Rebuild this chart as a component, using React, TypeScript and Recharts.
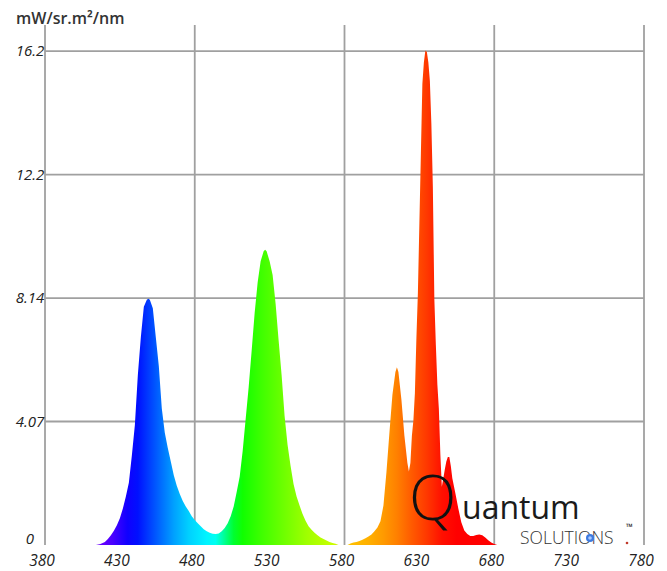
import { Area, AreaChart, CartesianGrid, XAxis, YAxis } from 'recharts';

const wavelengths = [
  380, 414, 417, 420, 422, 424, 426, 428, 430, 432, 434, 436, 438, 440, 442, 444, 446, 448, 449, 450,
  452, 454, 456, 458, 460, 462, 464, 466, 468, 470, 472, 474, 476, 478, 480, 482, 484, 486, 488, 490,
  492, 494, 496, 498, 500, 502, 504, 506, 508, 510, 512, 514, 516, 518, 520, 522, 524, 526, 527, 528,
  530, 532, 534, 536, 538, 540, 542, 544, 546, 548, 550, 552, 554, 556, 558, 560, 562, 564, 566, 568,
  570, 572, 574, 576, 582, 584, 586, 588, 590, 592, 594, 596, 598, 600, 602, 604, 606, 608, 610, 612,
  614, 615, 616, 618, 620, 622, 623, 624, 625, 626, 627, 628, 629, 630, 631, 632, 633, 634, 635, 636,
  637, 638, 639, 640, 641, 642, 643, 644, 645, 646, 647, 648, 649, 650, 651, 652, 654, 656, 658, 660,
  662, 664, 666, 668, 670, 672, 674, 676, 678, 680, 682, 780,
];

const radiance = [
  0, 0, 0.03, 0.1, 0.2, 0.32, 0.47, 0.65, 0.88, 1.2, 1.6, 2.05, 2.95, 3.95, 5.6, 6.85, 7.85, 8.08, 8.12, 8.08,
  7.8, 6.85, 5.9, 4.5, 3.7, 3.2, 2.75, 2.3, 1.95, 1.68, 1.45, 1.27, 1.12, 0.95, 0.82, 0.72, 0.62, 0.52, 0.45, 0.4,
  0.37, 0.36, 0.38, 0.45, 0.56, 0.72, 0.95, 1.27, 1.75, 2.25, 3.1, 4.15, 5.2, 6.4, 7.65, 8.65, 9.35, 9.68, 9.73, 9.68,
  9.35, 8.9, 7.95, 6.75, 5.6, 4.25, 3.3, 2.6, 2.0, 1.6, 1.3, 1.02, 0.8, 0.62, 0.5, 0.4, 0.32, 0.25, 0.2, 0.15,
  0.1, 0.07, 0.04, 0, 0, 0.05, 0.08, 0.1, 0.13, 0.17, 0.22, 0.28, 0.35, 0.45, 0.58, 0.78, 1.3, 2.4, 3.7, 4.95,
  5.7, 5.86, 5.7, 4.8, 3.6, 2.7, 2.42, 2.7, 3.6, 4.1, 5.0, 6.8, 8.3, 10.6, 12.9, 15.2, 15.9, 16.3, 16.25, 15.9,
  15.3, 13.9, 11.8, 8.1, 6.6, 5.3, 4.5, 3.0, 1.92, 2.2, 2.5, 2.75, 2.9, 2.9, 2.6, 2.2, 1.71, 1.2, 0.75, 0.48,
  0.36, 0.3, 0.3, 0.33, 0.35, 0.32, 0.25, 0.16, 0.08, 0.03, 0, 0,
];

const xDomain = [380, 780];
const yDomain = [0, 17.14];
const xTicks = [380, 430, 480, 530, 580, 630, 680, 730, 780];
const xGridTicks = [380, 480, 580, 680, 780];
const yTicks = [0, 4.07, 8.14, 12.21, 16.28];
const yTickLabels = ['0', '4.07', '8.14', '12.2', '16.2'];
const yGridTicks = [4.07, 8.14, 12.21, 16.28];

// wavelength -> colour stops for the spectrum fill
const spectrumStops: [number, string][] = [
  [380, '#7000ff'], [417, '#6a00ff'], [425, '#4a00ff'], [435, '#1000ff'], [442, '#0010ff'],
  [450, '#0040ff'], [458, '#0070ff'], [466, '#00a0ff'], [476, '#00d0ff'], [488, '#00f4ff'],
  [494, '#00fff0'], [500, '#00ff90'], [506, '#00ff30'], [512, '#10ff00'], [525, '#40ff00'],
  [540, '#70ff00'], [555, '#a0ff00'], [572, '#c8ff00'], [584, '#ffc000'], [596, '#ffb000'],
  [606, '#ff9a00'], [615, '#ff8000'], [625, '#ff5a00'], [635, '#ff3800'], [645, '#ff1000'],
  [655, '#ff0000'], [780, '#ff0000'],
];

const data = wavelengths.map((wl, i) => ({ wl, v: radiance[i] }));

const font = '"Open Sans", "DejaVu Sans", sans-serif';

// use the axis scale when it is exposed, else the plot offset
const scaleX = (axis: any, offset: any, t: number) =>
  axis && typeof axis.scale === 'function'
    ? axis.scale(t)
    : offset.left + ((t - xDomain[0]) / (xDomain[1] - xDomain[0])) * offset.width;

const scaleY = (axis: any, offset: any, t: number) =>
  axis && typeof axis.scale === 'function'
    ? axis.scale(t)
    : offset.top + (1 - (t - yDomain[0]) / (yDomain[1] - yDomain[0])) * offset.height;

const YTick = ({ x, y, payload }: any) => {
  const i = yTicks.indexOf(payload.value);
  return (
    <text x={x - 15} y={y + (payload.value === 0 ? -6 : 0)} dy='0.36em' textAnchor='middle'
      fontFamily={font} fontStyle='italic' fontSize={15} fill='#222'>
      {i >= 0 ? yTickLabels[i] : payload.value}
    </text>
  );
};

const XTick = ({ x, y, payload }: any) => (
  <text x={x - 3} y={y + 21} textAnchor='middle'
    fontFamily={font} fontStyle='italic' fontSize={15.5} fill='#222'>
    {payload.value}
  </text>
);

export default function App() {
  return (
    <div style={{ position: 'fixed', left: 0, top: 0, width: 667, height: 571, background: '#fff' }}>
      <AreaChart width={667} height={571} data={data} margin={{ top: 25, right: 23, bottom: 0, left: 8 }}>
        <defs>
          <linearGradient id='spectrum' x1='0' y1='0' x2='1' y2='0'>
            {spectrumStops.map(([wl, c]) => (
              <stop key={wl} offset={(wl - 380) / 400} stopColor={c} />
            ))}
          </linearGradient>
        </defs>
        <CartesianGrid stroke='#a0a0a0' strokeWidth={1.8}
          verticalCoordinatesGenerator={({ xAxis, offset }: any) => xGridTicks.map((t) => scaleX(xAxis, offset, t))}
          horizontalCoordinatesGenerator={({ yAxis, offset }: any) => yGridTicks.map((t) => scaleY(yAxis, offset, t))} />
        <XAxis dataKey='wl' type='number' domain={xDomain} ticks={xTicks} interval={0}
          axisLine={false} tickLine={false} tickSize={0} tickMargin={0} height={26} tick={<XTick />} />
        <YAxis type='number' domain={yDomain} ticks={yTicks} interval={0} width={37}
          axisLine={false} tickLine={false} tickSize={0} tickMargin={0} tick={<YTick />} />
        <Area dataKey='v' type='linear' stroke='none' fill='url(#spectrum)' fillOpacity={1}
          dot={false} activeDot={false} isAnimationActive={false} />
      </AreaChart>
      <svg width={667} height={571} style={{ position: 'absolute', left: 0, top: 0, pointerEvents: 'none' }}>
        <text x={16} y={24} fontFamily={font} fontWeight={600} fontSize={16} fill='#333'>mW/sr.m²/nm</text>
        <text x={409} y={520} fontFamily={font} fontWeight={300} fontSize={62} fill='#111'>Q</text>
        <text x={462} y={519} fontFamily={font} fontSize={32} fill='#1a1a1a'>uantum</text>
        <text x={520} y={543.5} fontFamily={font} fontWeight={300} fontSize={17.5} fill='#333'>SOLUTIONS</text>
        <circle cx={590} cy={538} r={4} fill='#3d7be0' />
        <circle cx={590} cy={538} r={1.8} fill='#a8c8ff' />
        <circle cx={627} cy={543} r={1.3} fill='#c0392b' />
        <text x={626} y={530} fontFamily={font} fontWeight={700} fontSize={9} fill='#222'>™</text>
      </svg>
    </div>
  );
}
